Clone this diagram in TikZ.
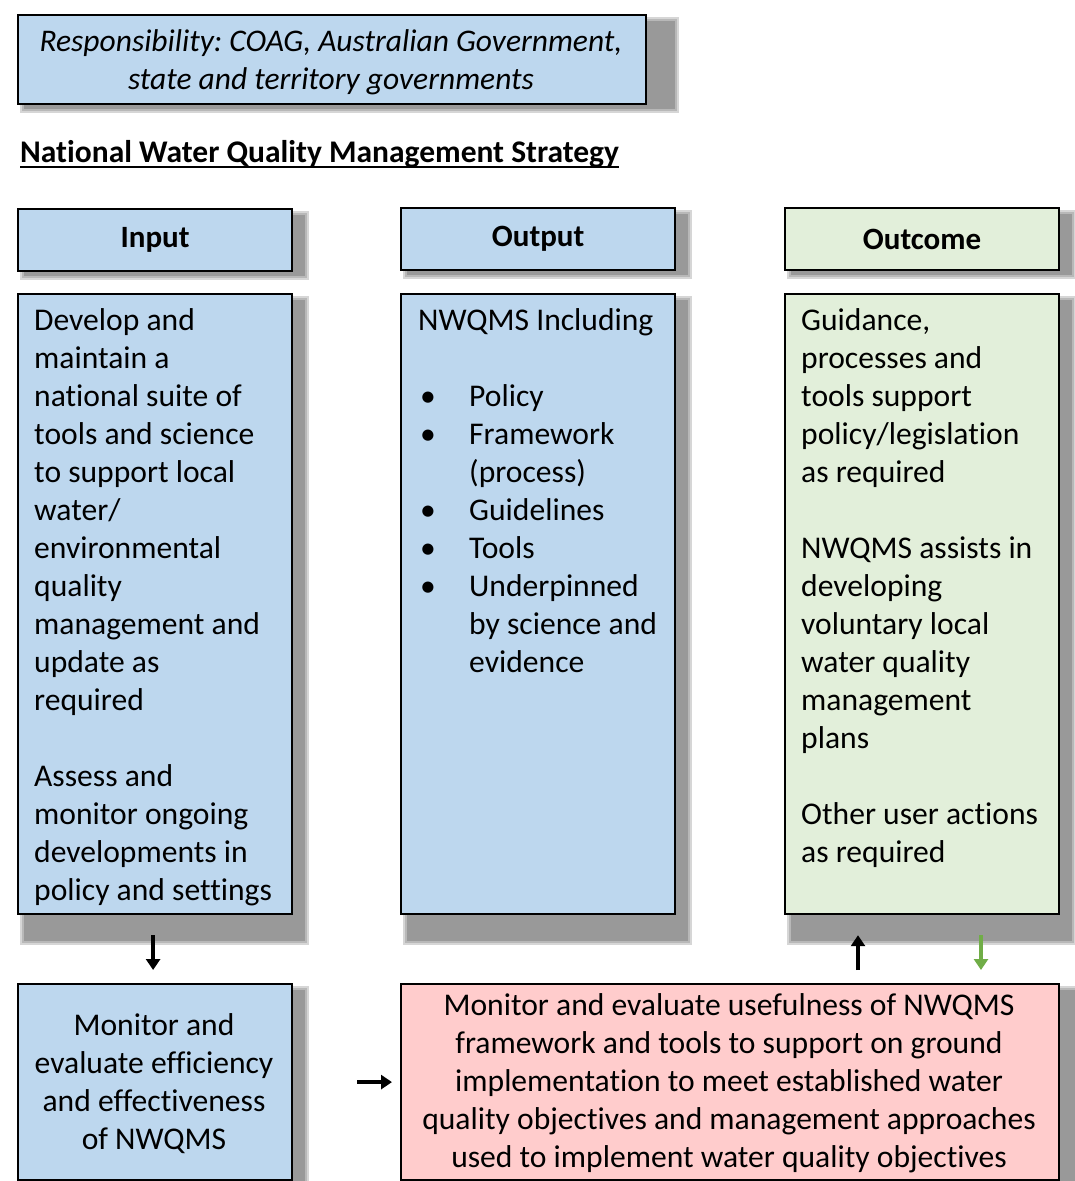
\documentclass[tikz,border=0pt]{standalone}
\usepackage{fontspec}
\setmainfont{Carlito}[Ligatures=NoCommon]
\frenchspacing
\usetikzlibrary{arrows.meta,calc}
\definecolor{boxblue}{HTML}{BDD7EE}
\definecolor{boxgreen}{HTML}{E2EFDA}
\definecolor{boxpink}{HTML}{FFCCCC}
\definecolor{arrgreen}{HTML}{70AD47}
\newcommand\txtL[1]{\vtop{\hsize=400pt\parindent=0pt\parskip=0pt\raggedright\noindent #1\par}}
\newcommand\txtC[2]{\vtop{\hsize=#1\parindent=0pt\parskip=0pt\centering\noindent #2\par}}
\newcommand\ulthick[1]{\setbox0\hbox{#1}\rlap{\rule[-5.5pt]{\wd0}{1.8pt}}\box0}
\newcommand\shad[6]{%
  \fill[black!16] (#1+3,#2+3) rectangle (#3+#5+2,#4+#6+2);
  \fill[black!28] (#1+5,#2+5) rectangle (#3+#5,#4+#6);
  \fill[black!40] (#1+7,#2+7) rectangle (#3+#5-2,#4+#6-2);
}
\begin{document}
\begin{tikzpicture}[x=1pt,y=-1pt,
  box/.style={draw=black, line width=2.2pt, inner sep=0pt, anchor=north west},
  head/.style={font=\bfseries\fontsize{31}{36}\selectfont},
  body/.style={inner sep=0pt, font=\fontsize{31.6}{38}\selectfont},
  arr/.style={line width=3.4pt, -{Triangle[length=11pt,width=14pt]}}]
\useasboundingbox (0,0) rectangle (1074,1181);
% shadows
\shad{17}{14}{645}{103}{32}{8}
\shad{17}{208}{291}{270}{16}{8}
\shad{400}{207}{674}{269}{16}{8}
\shad{784}{207}{1058}{269}{16}{8}
\shad{17}{293}{291}{913}{16}{30}
\shad{400}{293}{674}{913}{16}{30}
\shad{784}{293}{1058}{913}{16}{30}
\shad{17}{983}{291}{1179}{16}{30}
\shad{400}{983}{1058}{1179}{34}{30}
% top box
\node[box, fill=boxblue, minimum width=628pt, minimum height=89pt] (resp) at (17,14) {};
\node[inner sep=0pt, anchor=base, font=\itshape\fontsize{31.5}{38}\selectfont] (resptxt) at (331,51)
  {\txtC{620pt}{Responsibility: COAG, Australian Government,\\state and territory governments}};
% title
\node[inner sep=0pt, anchor=base west, font=\bfseries\fontsize{31.5}{36}\selectfont] (title) at (20,162)
  {\ulthick{National Water Quality Management Strategy}};
% headers
\node[box, fill=boxblue, minimum width=274pt, minimum height=62pt, head] (inhead) at (17,208) {Input};
\node[box, fill=boxblue, minimum width=274pt, minimum height=62pt, head] (outhead) at (400,207) {Output};
\node[box, fill=boxgreen, minimum width=274pt, minimum height=62pt, head] (ochead) at (784,207) {Outcome};
% bodies
\node[box, fill=boxblue, minimum width=274pt, minimum height=620pt] (inbody) at (17,293) {};
\node[box, fill=boxblue, minimum width=274pt, minimum height=620pt] (outbody) at (400,293) {};
\node[box, fill=boxgreen, minimum width=274pt, minimum height=620pt] (ocbody) at (784,293) {};
\node[body, anchor=base west] (intxt) at (34,330) {\txtL{Develop and\\maintain a\\national suite of\\tools and science\\to support local\\water/\\environmental\\quality\\management and\\update as\\required\\[38pt]Assess and\\monitor ongoing\\developments in\\policy and settings}};
\node[body, anchor=base west] (outtxt) at (418,330) {\txtL{NWQMS Including\\[38pt]%
\makebox[51pt][l]{\hspace{2pt}\textbullet}Policy\\
\makebox[51pt][l]{\hspace{2pt}\textbullet}Framework\\
\hspace*{51pt}(process)\\
\makebox[51pt][l]{\hspace{2pt}\textbullet}Guidelines\\
\makebox[51pt][l]{\hspace{2pt}\textbullet}Tools\\
\makebox[51pt][l]{\hspace{2pt}\textbullet}Underpinned\\
\hspace*{51pt}by science and\\
\hspace*{51pt}evidence}};
\node[body, anchor=base west] (octxt) at (801,330) {\txtL{Guidance,\\processes and\\tools support\\policy/legislation\\as required\\[38pt]NWQMS assists in\\developing\\voluntary local\\water quality\\management\\plans\\[38pt]Other user actions\\as required}};
% bottom boxes
\node[box, fill=boxblue, minimum width=274pt, minimum height=196pt] (evalbox) at (17,983) {};
\node[box, fill=boxpink, minimum width=658pt, minimum height=196pt] (usebox) at (400,983) {};
\node[body, anchor=base] (evaltxt) at (154,1035) {\txtC{270pt}{Monitor and\\evaluate efficiency\\and effectiveness\\of NWQMS}};
\node[body, anchor=base] (usetxt) at (729,1015) {\txtC{650pt}{Monitor and evaluate usefulness of NWQMS\\framework and tools to support on ground\\implementation to meet established water\\quality objectives and management approaches\\used to implement water quality objectives}};
% arrows
\draw[arr] ([xshift=-2pt,yshift=-20pt]inbody.south) -- ([xshift=-2pt,yshift=13pt]evalbox.north);
\draw[arr] ([xshift=64pt]evalbox.east) -- ([xshift=-8pt]usebox.west);
\draw[arr] ([xshift=458pt,yshift=13pt]usebox.north west) -- ([xshift=74pt,yshift=-20pt]ocbody.south west);
\draw[arr, draw=arrgreen, fill=arrgreen] ([xshift=197pt,yshift=-20pt]ocbody.south west) -- ([xshift=581pt,yshift=13pt]usebox.north west);
\end{tikzpicture}
\end{document}
